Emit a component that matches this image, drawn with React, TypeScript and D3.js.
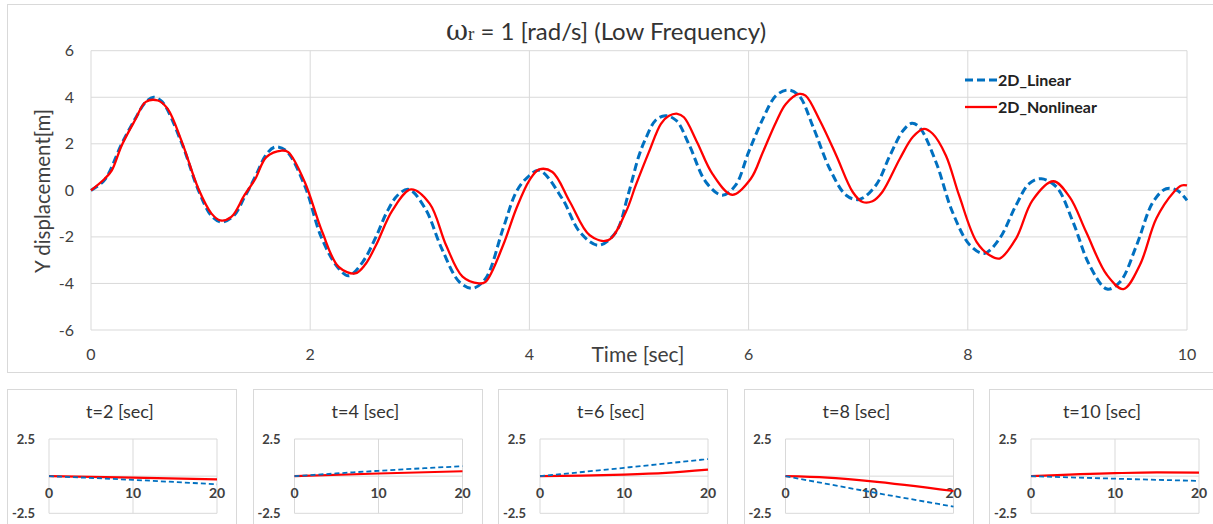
import React from 'react';
import * as d3 from 'd3';

// ---- main chart data: [time (s), Y displacement (m)] ----
const linearData: [number, number][] = [
  [0, 0], [0.125, 0.45], [0.28, 2.0], [0.4, 3.05], [0.5, 3.8], [0.57, 4.0], [0.65, 3.8],
  [0.83, 2.0], [0.98, 0.0], [1.1, -1.1], [1.19, -1.36], [1.3, -1.1], [1.4, -0.3], [1.5, 0.6],
  [1.6, 1.55], [1.68, 1.86], [1.78, 1.7], [1.95, 0.2], [2.1, -2.0], [2.25, -3.3], [2.35, -3.67],
  [2.48, -3.07], [2.6, -2.0], [2.7, -0.93], [2.8, -0.2], [2.9, 0.04], [3.05, -0.79], [3.2, -2.5],
  [3.36, -3.93], [3.48, -4.21], [3.6, -3.79], [3.76, -1.64], [3.88, -0.07], [3.98, 0.55],
  [4.09, 0.86], [4.3, -0.36], [4.46, -1.79], [4.63, -2.36], [4.79, -1.79], [4.9, -0.2],
  [5.0, 1.5], [5.06, 2.21], [5.15, 3.0], [5.24, 3.21], [5.34, 3.0], [5.46, 1.93], [5.61, 0.36],
  [5.76, -0.21], [5.88, 0.21], [6.0, 1.64], [6.13, 3.07], [6.25, 4.07], [6.36, 4.31],
  [6.46, 4.07], [6.59, 2.71], [6.74, 0.93], [6.89, -0.21], [7.01, -0.39], [7.16, 0.21],
  [7.29, 1.5], [7.41, 2.57], [7.49, 2.88], [7.56, 2.7], [7.71, 1.21], [7.86, -0.93],
  [8.02, -2.36], [8.15, -2.71], [8.29, -2.07], [8.44, -0.64], [8.56, 0.29], [8.67, 0.5],
  [8.81, 0.14], [8.96, -1.36], [9.11, -3.21], [9.27, -4.24], [9.39, -3.93], [9.54, -2.36],
  [9.69, -0.5], [9.81, 0.07], [9.91, 0.0], [10, -0.43],
];

const nonlinearData: [number, number][] = [
  [0, 0], [0.125, 0.5], [0.19, 0.86], [0.28, 1.93], [0.4, 3.0], [0.5, 3.8], [0.61, 3.86],
  [0.7, 3.5], [0.83, 2.07], [0.98, 0.07], [1.1, -1.0], [1.18, -1.29], [1.28, -1.14],
  [1.4, -0.21], [1.5, 0.5], [1.6, 1.43], [1.74, 1.71], [1.8, 1.64], [1.95, 0.36], [2.11, -1.79],
  [2.26, -3.29], [2.41, -3.57], [2.5, -3.2], [2.6, -2.36], [2.75, -0.86], [2.92, 0.04],
  [3.09, -0.57], [3.24, -2.36], [3.39, -3.71], [3.54, -4.0], [3.6, -3.93], [3.76, -2.36],
  [3.88, -0.79], [4.0, 0.43], [4.09, 0.9], [4.21, 0.79], [4.37, -0.5], [4.55, -1.93],
  [4.72, -2.14], [4.88, -0.93], [4.97, 0.21], [5.09, 1.64], [5.2, 2.86], [5.27, 3.19],
  [5.35, 3.29], [5.41, 3.14], [5.53, 2.07], [5.67, 0.71], [5.85, -0.19], [6.02, 0.5],
  [6.13, 1.64], [6.25, 2.93], [6.34, 3.71], [6.46, 4.14], [6.52, 4.07], [6.65, 3.0],
  [6.8, 1.5], [6.95, -0.07], [7.04, -0.5], [7.13, -0.47], [7.22, -0.07], [7.38, 1.36],
  [7.5, 2.3], [7.6, 2.64], [7.68, 2.43], [7.8, 1.5], [7.92, -0.21], [8.08, -2.21],
  [8.2, -2.79], [8.29, -2.93], [8.44, -2.07], [8.59, -0.43], [8.78, 0.39], [8.93, -0.29],
  [9.08, -1.79], [9.27, -3.64], [9.42, -4.24], [9.57, -3.21], [9.72, -1.21], [9.88, -0.07],
  [9.95, 0.21], [10, 0.21],
];

const xTicks = [0, 2, 4, 6, 8, 10];
const yTicks = [-6, -4, -2, 0, 2, 4, 6];
const seriesNames = ['2D_Linear', '2D_Nonlinear'];

// ---- small panels ----
const panelTitles = ['t=2 [sec]', 't=4 [sec]', 't=6 [sec]', 't=8 [sec]', 't=10 [sec]'];
const panelLinear: [number, number][][] = [
  [[0, 0], [10, -0.25], [20, -0.55]],
  [[0, 0], [10, 0.36], [20, 0.67]],
  [[0, 0], [10, 0.56], [20, 1.15]],
  [[0, 0], [10, -1.05], [20, -2.05]],
  [[0, 0], [10, -0.17], [20, -0.32]],
];
const panelNonlinear: [number, number][][] = [
  [[0, 0], [10, -0.1], [20, -0.22]],
  [[0, 0], [10, 0.18], [20, 0.33]],
  [[0, 0], [5, 0.03], [10, 0.1], [15, 0.22], [20, 0.44]],
  [[0, 0], [5, -0.1], [10, -0.33], [20, -1.0]],
  [[0, 0], [10, 0.2], [15, 0.25], [20, 0.24]],
];
const panelXTicks = [0, 10, 20];
const panelYTicks = [-2.5, 2.5];

const BLUE = '#0070C0';
const RED = '#FF0000';
const GRID = '#d9d9d9';
const TEXT = '#404040';
const FONT = 'Lato, "Open Sans", sans-serif';

export default function App() {
  const x = d3.scaleLinear().domain([0, 10]).range([91, 1187]);
  const y = d3.scaleLinear().domain([-6, 6]).range([330, 50.7]);
  const line = d3
    .line<[number, number]>()
    .x((d) => x(d[0]))
    .y((d) => y(d[1]))
    .curve(d3.curveCatmullRom.alpha(0.5));

  const panelLeft0 = 7;
  const panelPitch = 245.5;
  const panelW = 229;

  return (
    <svg
      width={1213}
      height={524}
      style={{ position: 'absolute', left: 0, top: 0, background: '#fff' }}
      fontFamily={FONT}
    >
      <rect x={0} y={0} width={1213} height={524} fill="#fff" />
      {/* main chart frame */}
      <rect x={7.5} y={4.5} width={1215} height={368} fill="none" stroke={GRID} />

      {/* gridlines */}
      {yTicks.map((t) => (
        <line key={'gy' + t} x1={x(0)} x2={x(10)} y1={y(t)} y2={y(t)} stroke={GRID} strokeWidth={1} />
      ))}
      {xTicks.map((t) => (
        <line key={'gx' + t} x1={x(t)} x2={x(t)} y1={y(6)} y2={y(-6)} stroke={GRID} strokeWidth={1} />
      ))}

      {/* y tick labels */}
      {yTicks.map((t) => (
        <text key={'ty' + t} x={74} y={y(t) + 5.5} textAnchor="end" fontSize={16} fill={TEXT}>
          {t}
        </text>
      ))}
      {/* x tick labels */}
      {xTicks.map((t) => (
        <text key={'tx' + t} x={x(t)} y={360} textAnchor="middle" fontSize={16} fill={TEXT}>
          {t}
        </text>
      ))}

      {/* axis titles */}
      <text x={638} y={362} textAnchor="middle" fontSize={21} fill={TEXT}>
        Time [sec]
      </text>
      <text
        transform={`translate(50,191) rotate(-90)`}
        textAnchor="middle"
        fontSize={20.5}
        fill={TEXT}
      >
        Y displacement[m]
      </text>

      {/* title */}
      <text x={606} y={40} textAnchor="middle" fontSize={24} fill="#333">
        <tspan fontFamily='"DejaVu Serif", serif' fontSize={27}>ω</tspan>
        <tspan fontFamily='"Liberation Serif", serif' fontSize={19}>r</tspan>
        <tspan> = 1 [rad/s] (Low Frequency)</tspan>
      </text>

      {/* series */}
      <path d={line(linearData) || ''} fill="none" stroke={BLUE} strokeWidth={3} strokeDasharray="8 4" />
      <path d={line(nonlinearData) || ''} fill="none" stroke={RED} strokeWidth={2.3} />

      {/* legend */}
      <line x1={965} x2={997} y1={80} y2={80} stroke={BLUE} strokeWidth={3} strokeDasharray="8 4" />
      <text x={998} y={86} fontSize={16} fontWeight="bold" fill="#222">
        {seriesNames[0]}
      </text>
      <line x1={965} x2={997} y1={107} y2={107} stroke={RED} strokeWidth={2.3} />
      <text x={998} y={113} fontSize={16} fontWeight="bold" fill="#222">
        {seriesNames[1]}
      </text>

      {/* small panels */}
      {panelTitles.map((title, i) => {
        const left = panelLeft0 + i * panelPitch;
        const px = d3.scaleLinear().domain([0, 20]).range([left + 42, left + 210]);
        const py = d3.scaleLinear().domain([-2.5, 2.5]).range([513.3, 439]);
        const pline = d3
          .line<[number, number]>()
          .x((d) => px(d[0]))
          .y((d) => py(d[1]))
          .curve(d3.curveMonotoneX);
        return (
          <g key={'p' + i}>
            <rect x={Math.round(left) + 0.5} y={389.5} width={panelW} height={150} fill="none" stroke={GRID} />
            <text x={left + 113} y={418} textAnchor="middle" fontSize={18} fill="#333">
              {title}
            </text>
            {[-2.5, 0, 2.5].map((t) => (
              <line key={'pgy' + t} x1={px(0)} x2={px(20)} y1={py(t)} y2={py(t)} stroke={GRID} />
            ))}
            {panelXTicks.map((t) => (
              <line key={'pgx' + t} x1={px(t)} x2={px(t)} y1={py(2.5)} y2={py(-2.5)} stroke={GRID} />
            ))}
            {panelYTicks.map((t) => (
              <text key={'pty' + t} x={left + 28} y={py(t) + 4.5} textAnchor="end" fontSize={13} fontWeight="bold" fill={TEXT}>
                {t}
              </text>
            ))}
            {panelXTicks.map((t) => (
              <text key={'ptx' + t} x={px(t)} y={498} textAnchor="middle" fontSize={14} fontWeight="bold" fill={TEXT}>
                {t}
              </text>
            ))}
            <path d={pline(panelNonlinear[i]) || ''} fill="none" stroke={RED} strokeWidth={2.2} />
            <path d={pline(panelLinear[i]) || ''} fill="none" stroke={BLUE} strokeWidth={1.8} strokeDasharray="5 3" />
          </g>
        );
      })}
    </svg>
  );
}
